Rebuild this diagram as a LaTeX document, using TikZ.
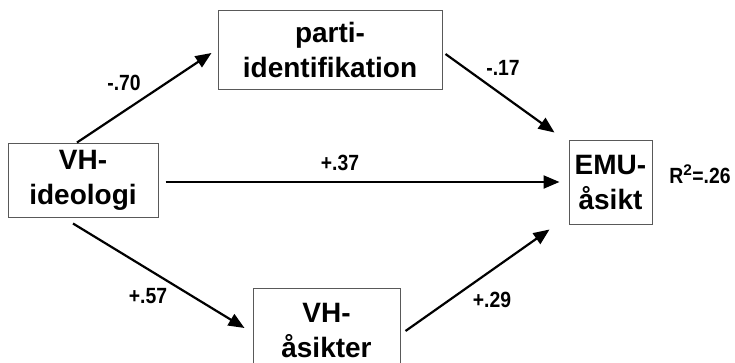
\documentclass[tikz,border=0pt]{standalone}
\usepackage{fontspec}
\setmainfont{Liberation Sans}
\newfontfamily\narrowfont{Liberation Sans}[FakeStretch=0.88]
\usetikzlibrary{arrows.meta,calc}
\tikzset{
  box/.style={draw=black!65, line width=1pt, align=center, inner sep=0pt,
    font=\fontsize{28}{35}\selectfont\bfseries},
  arr/.style={black, line width=2.2pt, -{Triangle[length=16pt,width=13pt]}},
  lab/.style={inner sep=0pt, font=\narrowfont\fontsize{22}{26}\selectfont\bfseries}
}
\begin{document}
\begin{tikzpicture}[x=1pt,y=-1pt]
\useasboundingbox (0,0) rectangle (735,362);
\node[box, minimum width=150pt, minimum height=74pt] (ideo) at (83,180) {VH-\\ideologi};
\node[box, minimum width=224pt, minimum height=79pt] (parti) at (330,49.5) {parti-\\identifikation};
\node[box, minimum width=83pt, minimum height=84pt] (emu) at (610.5,182) {EMU-\\åsikt};
\node[box, minimum width=147pt, minimum height=84pt] (vha) at (326.5,330) {VH-\\åsikter};

\draw[arr] ([xshift=-6pt]ideo.north) -- ([xshift=-6pt,yshift=-3.5pt]parti.west);
\draw[arr] ([xshift=3pt,yshift=-4.5pt]parti.east) -- ([xshift=-14pt,yshift=7pt]emu.north west);
\draw[arr] ([xshift=7pt]ideo.east |- emu.west) -- ([xshift=-9pt]emu.west);
\draw[arr] ([xshift=-10pt,yshift=-6pt]ideo.south) -- ([xshift=-8pt,yshift=2pt]vha.west);
\draw[arr] ([xshift=5pt,yshift=-1pt]vha.east) -- ([xshift=-19pt,yshift=-5pt]emu.south west);

\node[lab] (l1) at (124,83) {-.70};
\node[lab] (l2) at (503,68) {-.17};
\node[lab] (l3) at (340,163) {+.37};
\node[lab] (l4) at (148,296) {+.57};
\node[lab] (l5) at (492,300) {+.29};
\node[lab] (r2) at (700,174) {R$^{\mathbf{2}}$=.26};
\end{tikzpicture}
\end{document}
